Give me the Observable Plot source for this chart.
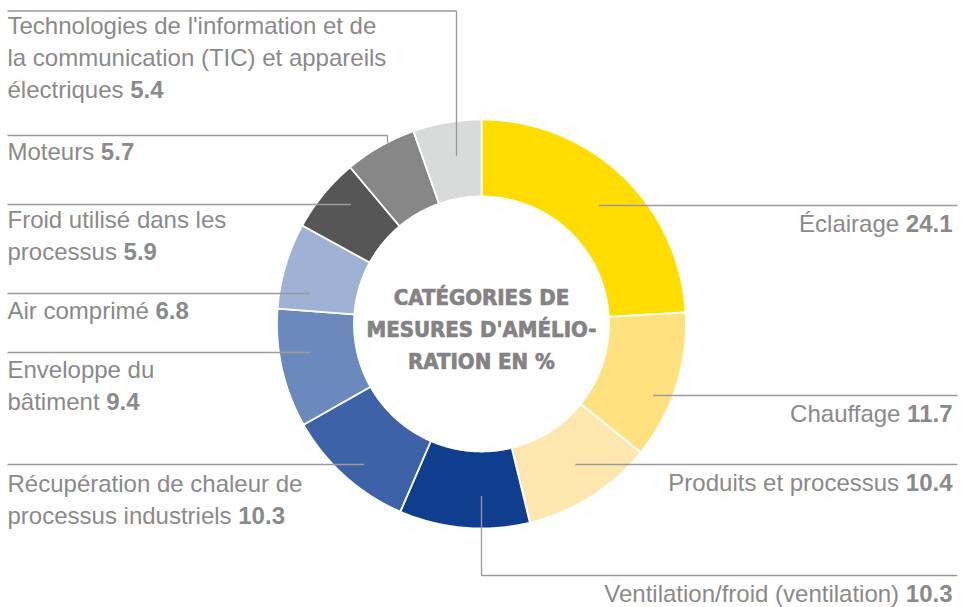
<!DOCTYPE html>
<html>
<head>
<meta charset="utf-8">
<script src="https://cdn.jsdelivr.net/npm/d3@7"></script>
<script src="https://cdn.jsdelivr.net/npm/@observablehq/plot@0.6"></script>
<style>
  html, body { margin: 0; padding: 0; background: #fff; }
  #chart svg { display: block; }
</style>
</head>
<body>
<div id="chart"></div>
<script>
// ---- data ----
const categories = [
  "Éclairage", "Chauffage", "Produits et processus", "Ventilation/froid (ventilation)",
  "Récupération de chaleur de processus industriels", "Enveloppe du bâtiment",
  "Air comprimé", "Froid utilisé dans les processus", "Moteurs",
  "Technologies de l'information et de la communication (TIC) et appareils électriques"
];
const values = [24.1, 11.7, 10.4, 10.3, 10.3, 9.4, 6.8, 5.9, 5.7, 5.4];
const colors = ["#FFDD00", "#FFE27F", "#FDE7AF", "#0F3E8F", "#3E62A7", "#6B89BD",
                "#9EB2D5", "#565656", "#878787", "#D9DADA"];
const nameLines = [
  ["Éclairage"], ["Chauffage"], ["Produits et processus"], ["Ventilation/froid (ventilation)"],
  ["Récupération de chaleur de", "processus industriels"], ["Enveloppe du", "bâtiment"],
  ["Air comprimé"], ["Froid utilisé dans les", "processus"], ["Moteurs"],
  ["Technologies de l'information et de", "la communication (TIC) et appareils", "électriques"]
];
const centerTitle = ["CATÉGORIES DE", "MESURES D'AMÉLIO-", "RATION EN %"];

// ---- layout ----
const W = 963, H = 607, CX = 481, CY = 323.5, R_OUT = 204.5, R_IN = 127.5;
const LEFT_X = 7, RIGHT_X = 952, RIGHT_LINE_X = 957, LINE_H = 32;
const labelLayout = [
  {side: "R", lineY: 205, r: 167, base: 231},
  {side: "R", lineY: 395, r: 186, base: 421},
  {side: "R", lineY: 464, r: 169, base: 490},
  {side: "R", lineY: 575, elbowX: 481, r: 172, base: 601},
  {side: "L", lineY: 464, r: 183, base: 491},
  {side: "L", lineY: 352, r: 173, base: 377},
  {side: "L", lineY: 293, r: 175, base: 318},
  {side: "L", lineY: 204, r: 177, base: 227},
  {side: "L", lineY: 135, elbowX: 387, r: 204, base: 159},
  {side: "L", lineY: 10.5, elbowX: 456, r: 170, base: 33}
];
const FONT = "Liberation Sans, Arial, Helvetica, sans-serif";
const FS = 24;
const TEXT_COLOR = "#8a8a8a", LINE_COLOR = "#9a9a9a";

// ---- geometry ----
const arcs = d3.pie().sort(null).value(d => d)(values);
const slicePts = [];
arcs.forEach((a, i) => {
  const n = 80;
  for (let k = 0; k <= n; k++) {
    const t = a.startAngle + (a.endAngle - a.startAngle) * k / n;
    slicePts.push({cat: categories[i], x: CX + R_OUT * Math.sin(t), y: CY - R_OUT * Math.cos(t)});
  }
  for (let k = n; k >= 0; k--) {
    const t = a.startAngle + (a.endAngle - a.startAngle) * k / n;
    slicePts.push({cat: categories[i], x: CX + R_IN * Math.sin(t), y: CY - R_IN * Math.cos(t)});
  }
});

// leader lines
const leaderPts = [];
labelLayout.forEach((L, i) => {
  const id = categories[i];
  if (L.elbowX !== undefined) {
    const dx = L.elbowX - CX;
    const dy = Math.sqrt(L.r * L.r - dx * dx);
    const ay = L.lineY > CY ? CY + dy : CY - dy;
    const endX = L.side === "R" ? RIGHT_LINE_X : LEFT_X;
    leaderPts.push({id, x: L.elbowX, y: ay}, {id, x: L.elbowX, y: L.lineY}, {id, x: endX, y: L.lineY});
  } else {
    const dy = L.lineY - CY;
    const dx = Math.sqrt(L.r * L.r - dy * dy);
    if (L.side === "R") leaderPts.push({id, x: CX + dx, y: L.lineY}, {id, x: RIGHT_LINE_X, y: L.lineY});
    else leaderPts.push({id, x: LEFT_X, y: L.lineY}, {id, x: CX - dx, y: L.lineY});
  }
});

// text measurement
const ctx = document.createElement("canvas").getContext("2d");
function measure(s, weight) {
  ctx.font = `${weight} ${FS}px ${FONT}`;
  return ctx.measureText(s).width;
}

const namesL = [], namesR = [], valuesL = [], valuesR = [];
labelLayout.forEach((L, i) => {
  const lines = nameLines[i];
  const v = values[i].toFixed(1);
  lines.forEach((ln, j) => {
    const y = L.base + j * LINE_H;
    const last = j === lines.length - 1;
    if (L.side === "L") {
      namesL.push({x: LEFT_X, y, text: ln});
      if (last) valuesL.push({x: LEFT_X + measure(ln + " ", "normal"), y, text: v});
    } else {
      const nx = last ? RIGHT_X - measure(v, "bold") - measure(" ", "normal") : RIGHT_X;
      namesR.push({x: nx, y, text: ln});
      if (last) valuesR.push({x: RIGHT_X, y, text: v});
    }
  });
});

const centerTexts = centerTitle.map((t, j) => ({x: CX, y: 304.5 + j * 31.8, text: t}));

const txt = (data, anchor, weight) => Plot.text(data, {
  x: "x", y: "y", text: "text", textAnchor: anchor, lineAnchor: "bottom",
  fontSize: FS, fontFamily: FONT, fontWeight: weight, fill: TEXT_COLOR
});

const plot = Plot.plot({
  width: W, height: H,
  margin: 0, marginTop: 0, marginRight: 0, marginBottom: 0, marginLeft: 0,
  x: {domain: [0, W], axis: null},
  y: {domain: [H, 0], axis: null},
  color: {domain: categories, range: colors},
  style: {background: "#fff"},
  marks: [
    Plot.line(slicePts, {x: "x", y: "y", z: "cat", fill: "cat", stroke: "#fff",
      strokeWidth: 1.8, curve: "linear-closed"}),
    Plot.line(leaderPts, {x: "x", y: "y", z: "id", stroke: LINE_COLOR, strokeWidth: 1.3,
      strokeLinejoin: "miter", strokeLinecap: "butt"}),
    txt(namesL, "start", "normal"),
    txt(valuesL, "start", "bold"),
    txt(namesR, "end", "normal"),
    txt(valuesR, "end", "bold"),
    Plot.text(centerTexts, {x: "x", y: "y", text: "text", lineAnchor: "bottom",
      fontSize: 22, fontFamily: "DejaVu Sans Condensed, DejaVu Sans", fontWeight: "bold",
      fill: "#838383", stroke: "#838383", strokeWidth: 0.7})
  ]
});
document.getElementById("chart").appendChild(plot);
</script>
</body>
</html>
